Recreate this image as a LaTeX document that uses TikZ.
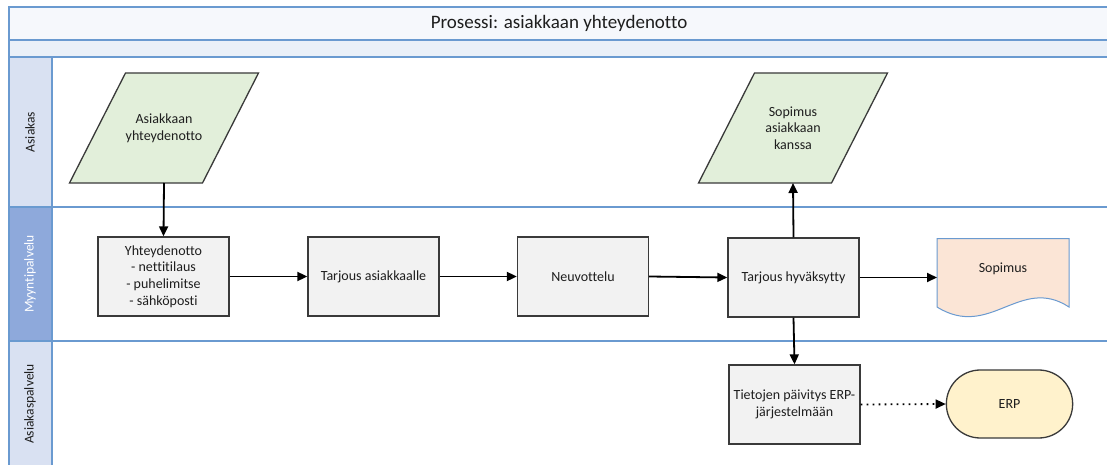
\documentclass[tikz,border=0pt]{standalone}
\usepackage{fontspec}
\setmainfont[Ligatures=NoCommon]{Carlito}
\usetikzlibrary{arrows.meta,shapes.misc}

\definecolor{laneline}{HTML}{6A9AD0}
\definecolor{lanelight}{HTML}{D9E1F2}
\definecolor{lanedark}{HTML}{8EA9DB}
\definecolor{titlefill}{HTML}{F6F8FC}
\definecolor{subfill}{HTML}{EAF0F8}
\definecolor{iofill}{HTML}{E2EFDA}
\definecolor{procfill}{HTML}{F2F2F2}
\definecolor{docfill}{HTML}{FBE5D6}
\definecolor{docline}{HTML}{6A9AD0}
\definecolor{termfill}{HTML}{FFF2CC}
\definecolor{edge}{HTML}{3A3A3A}
\definecolor{txt}{HTML}{1E1E1E}

\pgfdeclarelayer{shapes}
\pgfsetlayers{shapes,main}

\tikzset{
  lane/.style={draw=laneline, line width=1.4pt},
  lanelabel/.style={rotate=90, font=\fontsize{13.5}{16}\selectfont, text=txt},
  boxfont/.style={font=\fontsize{14}{16.7}\selectfont, text=txt},
  procbox/.style={rectangle, draw=edge, fill=procfill, line width=1.3pt,
    minimum width=131pt, minimum height=79pt, align=center, inner sep=2pt,
    boxfont},
  iobox/.style={rectangle, minimum width=133pt, minimum height=110pt,
    inner sep=0pt, outer sep=0pt, align=center, boxfont},
  ioshape/.style={draw=edge, fill=iofill, line width=1.3pt},
  docbox/.style={rectangle, minimum width=132pt, minimum height=78pt,
    outer sep=0pt, align=center, boxfont},
  termbox/.style={rounded rectangle, draw=edge, fill=termfill, line width=1.3pt,
    minimum width=133pt, minimum height=68pt, boxfont},
  flow/.style={draw=black, line width=1.8pt, -{Triangle[length=10pt,width=9pt]}},
  dataflow/.style={draw=black, line width=1.8pt, dash pattern=on 1.6pt off 4.4pt,
    -{Triangle[length=10pt,width=9pt]}}
}

\begin{document}
\begin{tikzpicture}[x=1pt, y=-1pt]
\useasboundingbox (0,0) rectangle (1107,465);

% pool header and lanes
\begin{pgfonlayer}{shapes}
\fill[white] (0,0) rectangle (1107,465);
\filldraw[lane, fill=titlefill] (9,7) rectangle (1115,40);
\filldraw[lane, fill=subfill] (9,40) rectangle (1115,57);
\filldraw[lane, fill=lanelight] (9,57) rectangle (52,207);
\filldraw[lane, fill=lanedark] (9,207) rectangle (52,341);
\filldraw[lane, fill=lanelight] (9,341) rectangle (52,472);
\draw[lane] (52,207) -- (1115,207);
\draw[lane] (52,341) -- (1115,341);
\end{pgfonlayer}

\node[font=\fontsize{19}{22}\selectfont, text=txt] (title) at (559,23) {Prosessi: asiakkaan yhteydenotto};
\node[lanelabel] (l1) at (30,132) {Asiakas};
\node[lanelabel, text=white] (l2) at (30,274) {Myyntipalvelu};
\node[lanelabel] (l3) at (30,404) {Asiakaspalvelu};

% flow elements
\node[iobox] (p1) at (164,128) {Asiakkaan\\yhteydenotto};
\node[iobox] (p2) at (793,128) {Sopimus\\asiakkaan\\kanssa};
\node[procbox] (y1) at (163.5,276.5) {Yhteydenotto\\- nettitilaus\\- puhelimitse\\- sähköposti};
\node[procbox] (y2) at (373.5,276.5) {Tarjous asiakkaalle};
\node[procbox] (neu) at (583,276.5) {Neuvottelu};
\node[procbox] (th) at (793.5,277.5) {Tarjous hyväksytty};
\node[docbox] (doc) at (1003,277.5) {\raisebox{20pt}{Sopimus}};
\node[procbox] (tie) at (794.5,404.5) {Tietojen päivitys ERP-\\järjestelmään};
\node[termbox] (erp) at (1009.5,404) {ERP};

% outlines of the data and document symbols, behind their text
\begin{pgfonlayer}{shapes}
\foreach \p in {p1,p2}
  \filldraw[ioshape] ([xshift=28pt]\p.north west) -- ([xshift=28pt]\p.north east)
    -- ([xshift=-28pt]\p.south east) -- ([xshift=-28pt]\p.south west) -- cycle;
\filldraw[draw=docline, fill=docfill, line width=1pt]
  (doc.north west) -- (doc.north east) -- (1069,307)
  .. controls (1020,275) and (990,340) .. (937,307) -- cycle;
\end{pgfonlayer}

% connectors
\draw[flow] (p1.south) -- (y1.north);
\draw[flow] (y1.east) -- (y2.west);
\draw[flow] (y2.east) -- (neu.west);
\draw[flow] (neu.east) -- (th.west);
\draw[flow] (th.east) -- (doc.west);
\draw[flow] (th.north) -- (p2.south);
\draw[flow] (th.south) -- (tie.north);
\draw[dataflow] (tie.east) -- (erp.west);
\end{tikzpicture}
\end{document}
